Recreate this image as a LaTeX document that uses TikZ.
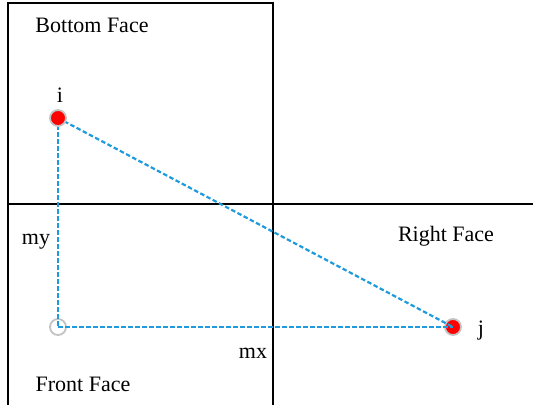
\documentclass[tikz,border=0pt]{standalone}
\usepackage{fontspec}
\setmainfont{Liberation Serif}
\usetikzlibrary{positioning}

\definecolor{linkblue}{RGB}{30,155,220}
\definecolor{ringgray}{RGB}{195,195,195}

\tikzset{
  face/.style={draw=black, line width=2pt},
  link/.style={draw=linkblue, line width=2.2pt, dash pattern=on 4.5pt off 2.5pt},
  redpt/.style={circle, fill=red, draw=ringgray, line width=1.8pt, minimum size=16pt, inner sep=0pt},
  hollowpt/.style={circle, draw=ringgray, line width=1.8pt, minimum size=16pt, inner sep=0pt},
  lbl/.style={font=\fontsize{22}{25}\selectfont, inner sep=0pt}
}

\begin{document}
\begin{tikzpicture}[x=1pt, y=-1pt]
  \useasboundingbox (0,0) rectangle (533,405);

  % Faces
  \draw[face] (8,405) -- (8,3) -- (273,3) -- (273,405);
  \draw[face] (8,204) -- (533,204);

  % Face labels
  \node[lbl] (bottom) at (92,25) {Bottom Face};
  \node[lbl] (right) at (446,236) {Right Face};
  \node[lbl] (front) at (83,384) {Front Face};

  % Points
  \coordinate (ipos) at (58,118);
  \node[hollowpt] (c) at (58,327) {};
  \node[redpt] (j) at (453,327) {};

  % Distances
  \draw[link] (ipos) -- (c.center);
  \draw[link] (c.center) -- (j.center);
  \draw[link] (ipos) -- (j.center);
  \node[redpt] (i) at (ipos) {};

  % Point labels
  \node[lbl] (ilbl) at (60,95) {i};
  \node[lbl] (jlbl) at (481,331) {j};
  \node[lbl] (my) at (36,242) {my};
  \node[lbl] (mx) at (253,353) {mx};
\end{tikzpicture}
\end{document}
